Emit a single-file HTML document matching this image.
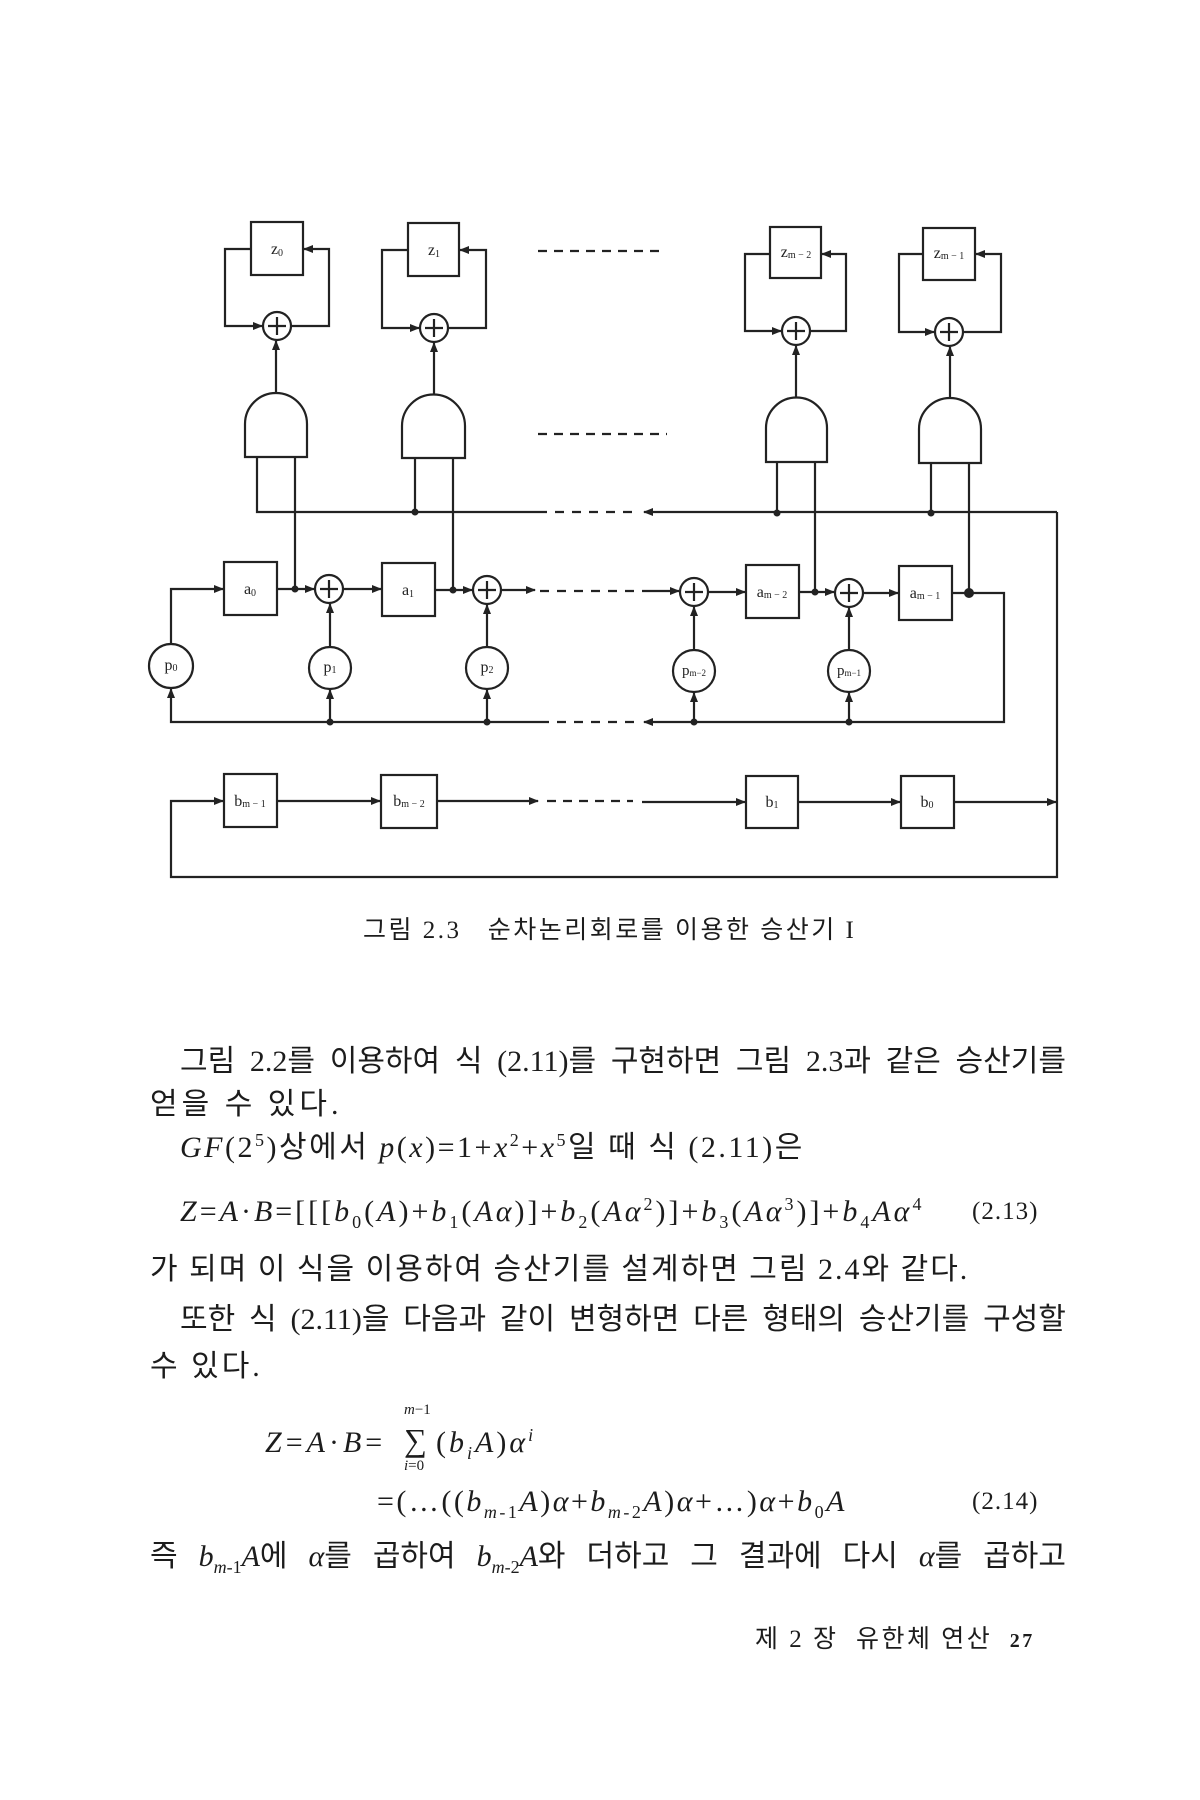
<!DOCTYPE html>
<html><head><meta charset="utf-8">
<style>
html,body{margin:0;padding:0;background:#fff;}
body{width:1200px;height:1800px;position:relative;overflow:hidden;}
.t{position:absolute;font-family:"Liberation Serif","Noto Sans CJK KR",serif;font-size:30px;letter-spacing:2px;color:#1c1c1c;line-height:36px;white-space:nowrap;}
.k{font-family:"Liberation Serif","Noto Sans CJK KR",sans-serif;}
.j{display:flex;justify-content:space-between;letter-spacing:0;}
i{font-style:italic;font-family:"Liberation Serif",serif;}
sub,sup{font-size:60%;line-height:0;}
</style></head><body>
<svg width="1200" height="1000" style="position:absolute;left:0;top:0" xmlns="http://www.w3.org/2000/svg">
<defs>
<marker id="a" markerWidth="10" markerHeight="8" refX="9" refY="4" orient="auto" markerUnits="userSpaceOnUse">
<path d="M0,0 L10,4 L0,8 z" fill="#222"/></marker>
</defs>
<g stroke="#222" stroke-width="2.2" fill="none">
<rect x="251" y="222" width="52" height="53"/>
<path d="M251,249 H225 V326 H262" marker-end="url(#a)"/>
<path d="M291,326 H329 V249 H304" marker-end="url(#a)"/>
<circle cx="277" cy="326" r="14"/><path d="M277,317 V335 M268,326 H286"/>
<rect x="408" y="223" width="51" height="53"/>
<path d="M408,250 H382 V328 H419" marker-end="url(#a)"/>
<path d="M448,328 H486 V250 H460" marker-end="url(#a)"/>
<circle cx="434" cy="328" r="14"/><path d="M434,319 V337 M425,328 H443"/>
<rect x="770" y="227" width="51" height="51"/>
<path d="M770,254 H745 V331 H781" marker-end="url(#a)"/>
<path d="M810,331 H846 V254 H822" marker-end="url(#a)"/>
<circle cx="796" cy="331" r="14"/><path d="M796,322 V340 M787,331 H805"/>
<rect x="923" y="228" width="52" height="52"/>
<path d="M923,254 H899 V332 H934" marker-end="url(#a)"/>
<path d="M963,332 H1001 V254 H976" marker-end="url(#a)"/>
<circle cx="949" cy="332" r="14"/><path d="M949,323 V341 M940,332 H958"/>
<path d="M245,457 V424 A31,31 0 0 1 307,424 V457 Z"/>
<path d="M276,393 V341" marker-end="url(#a)"/>
<path d="M402,458 V426 A31.5,31.5 0 0 1 465,426 V458 Z"/>
<path d="M434,395 V343" marker-end="url(#a)"/>
<path d="M766,462 V428 A30.5,30.5 0 0 1 827,428 V462 Z"/>
<path d="M796,397 V346" marker-end="url(#a)"/>
<path d="M919,463 V429 A31,31 0 0 1 981,429 V463 Z"/>
<path d="M950,398 V347" marker-end="url(#a)"/>
<path d="M257,457 V512 H538"/>
<path d="M295,457 V589"/>
<path d="M415,458 V512"/>
<path d="M453,458 V590"/>
<path d="M777,462 V513"/>
<path d="M815,462 V592"/>
<path d="M931,463 V513"/>
<path d="M969,463 V593"/>
<path d="M538,512 H640" stroke-dasharray="9,8"/>
<path d="M1057,512 H644" marker-end="url(#a)"/>
<path d="M1057,512 V877 H171 V801 H223" marker-end="url(#a)"/>
<path d="M538,251 H665" stroke-dasharray="9,7"/>
<path d="M538,434 H667" stroke-dasharray="9,7"/>
<path d="M171,644 V589 H223" marker-end="url(#a)"/>
<rect x="224" y="562" width="53" height="53"/>
<path d="M277,589 H314" marker-end="url(#a)"/>
<circle cx="329" cy="589" r="14"/><path d="M329,580 V598 M320,589 H338"/>
<path d="M343,589 H381" marker-end="url(#a)"/>
<rect x="382" y="563" width="53" height="53"/>
<path d="M435,590 H472" marker-end="url(#a)"/>
<circle cx="487" cy="590" r="14"/><path d="M487,581 V599 M478,590 H496"/>
<path d="M501,590 H535" marker-end="url(#a)"/>
<path d="M540,591 H650" stroke-dasharray="9,8"/>
<path d="M650,591 H679" marker-end="url(#a)"/>
<circle cx="694" cy="592" r="14"/><path d="M694,583 V601 M685,592 H703"/>
<path d="M708,592 H745" marker-end="url(#a)"/>
<rect x="746" y="565" width="53" height="53"/>
<path d="M799,592 H834" marker-end="url(#a)"/>
<circle cx="849" cy="593" r="14"/><path d="M849,584 V602 M840,593 H858"/>
<path d="M863,593 H898" marker-end="url(#a)"/>
<rect x="899" y="566" width="53" height="54"/>
<path d="M952,593 H1004 V722 H644" marker-end="url(#a)"/>
<path d="M540,722 H640" stroke-dasharray="9,8"/>
<path d="M540,722 H171 V689" marker-end="url(#a)"/>
<circle cx="171" cy="666" r="22"/>
<circle cx="330" cy="668" r="21"/>
<path d="M330,722 V690" marker-end="url(#a)"/><path d="M330,647 V604" marker-end="url(#a)"/>
<circle cx="487" cy="668" r="21"/>
<path d="M487,722 V690" marker-end="url(#a)"/><path d="M487,647 V605" marker-end="url(#a)"/>
<circle cx="694" cy="671" r="21"/>
<path d="M694,722 V693" marker-end="url(#a)"/><path d="M694,650 V607" marker-end="url(#a)"/>
<circle cx="849" cy="671" r="21"/>
<path d="M849,722 V693" marker-end="url(#a)"/><path d="M849,650 V608" marker-end="url(#a)"/>
<rect x="224" y="774" width="53" height="53"/>
<rect x="381" y="775" width="56" height="53"/>
<rect x="746" y="776" width="52" height="52"/>
<rect x="901" y="776" width="53" height="52"/>
<path d="M277,801 H380" marker-end="url(#a)"/>
<path d="M437,801 H538" marker-end="url(#a)"/>
<path d="M547,801 H633" stroke-dasharray="9,7"/>
<path d="M642,802 H745" marker-end="url(#a)"/>
<path d="M798,802 H900" marker-end="url(#a)"/>
<path d="M954,802 H1056" marker-end="url(#a)"/>
</g>
<g fill="#222">
<circle cx="295" cy="589" r="3.5"/><circle cx="415" cy="512" r="3.5"/><circle cx="453" cy="590" r="3.5"/>
<circle cx="777" cy="513" r="3.5"/><circle cx="815" cy="592" r="3.5"/><circle cx="931" cy="513" r="3.5"/>
<circle cx="969" cy="593" r="5"/>
<circle cx="330" cy="722" r="3.5"/><circle cx="487" cy="722" r="3.5"/><circle cx="694" cy="722" r="3.5"/><circle cx="849" cy="722" r="3.5"/>
</g>
<g font-family="Liberation Serif, serif" font-size="16" fill="#222" text-anchor="middle">
<text x="277" y="254">z<tspan font-size="10" dy="2">0</tspan></text>
<text x="434" y="255">z<tspan font-size="10" dy="2">1</tspan></text>
<text x="796" y="257">z<tspan font-size="10" dy="1">m − 2</tspan></text>
<text x="949" y="258">z<tspan font-size="10" dy="1">m − 1</tspan></text>
<text x="250" y="594">a<tspan font-size="10" dy="2">0</tspan></text>
<text x="408" y="595">a<tspan font-size="10" dy="2">1</tspan></text>
<text x="772" y="597">a<tspan font-size="10" dy="1">m − 2</tspan></text>
<text x="925" y="598">a<tspan font-size="10" dy="1">m − 1</tspan></text>
<text x="171" y="670">p<tspan font-size="10" dy="1">0</tspan></text>
<text x="330" y="672">p<tspan font-size="10" dy="1">1</tspan></text>
<text x="487" y="672">p<tspan font-size="10" dy="1">2</tspan></text>
<text x="694" y="675" font-size="15">p<tspan font-size="9" dy="1">m−2</tspan></text>
<text x="849" y="675" font-size="15">p<tspan font-size="9" dy="1">m−1</tspan></text>
<text x="250" y="806">b<tspan font-size="10" dy="1">m − 1</tspan></text>
<text x="409" y="806">b<tspan font-size="10" dy="1">m − 2</tspan></text>
<text x="772" y="807">b<tspan font-size="10" dy="1">1</tspan></text>
<text x="927" y="807">b<tspan font-size="10" dy="1">0</tspan></text>
</g>
</svg>

<div class="t k" style="left:363px;top:913px;font-size:25px;letter-spacing:2.5px;">그림 2.3&nbsp;&nbsp; 순차논리회로를 이용한 승산기 I</div>

<div class="t k j" style="left:180px;top:1044px;width:886px;"><span>그림</span><span>2.2를</span><span>이용하여</span><span>식</span><span>(2.11)를</span><span>구현하면</span><span>그림</span><span>2.3과</span><span>같은</span><span>승산기를</span></div>
<div class="t k" style="left:150px;top:1087px;letter-spacing:4px;">얻을 수 있다.</div>
<div class="t k" style="left:180px;top:1130px;letter-spacing:2.5px;"><i>GF</i>(2<sup>5</sup>)상에서 <i>p</i>(<i>x</i>)=1+<i>x</i><sup>2</sup>+<i>x</i><sup>5</sup>일 때 식 (2.11)은</div>
<div class="t" style="left:180px;top:1194px;letter-spacing:3px;"><i>Z</i>=<i>A</i>·<i>B</i>=[[[<i>b</i><sub>0</sub>(<i>A</i>)+<i>b</i><sub>1</sub>(<i>Aα</i>)]+<i>b</i><sub>2</sub>(<i>Aα</i><sup>2</sup>)]+<i>b</i><sub>3</sub>(<i>Aα</i><sup>3</sup>)]+<i>b</i><sub>4</sub><i>Aα</i><sup>4</sup></div>
<div class="t" style="left:972px;top:1194px;font-size:25px;letter-spacing:1px;">(2.13)</div>
<div class="t k" style="left:150px;top:1252px;">가 되며 이 식을 이용하여 승산기를 설계하면 그림 2.4와 같다.</div>
<div class="t k j" style="left:180px;top:1302px;width:886px;"><span>또한</span><span>식</span><span>(2.11)을</span><span>다음과</span><span>같이</span><span>변형하면</span><span>다른</span><span>형태의</span><span>승산기를</span><span>구성할</span></div>
<div class="t k" style="left:150px;top:1349px;letter-spacing:3px;">수 있다.</div>
<div class="t" style="left:265px;top:1425px;letter-spacing:4px;"><i>Z</i>=<i>A</i>·<i>B</i>=</div>
<div class="t" style="left:404px;top:1402px;font-size:15px;line-height:16px;letter-spacing:0;"><i>m</i>−1</div>
<div class="t" style="left:404px;top:1422px;font-size:32px;letter-spacing:0;">∑</div>
<div class="t" style="left:404px;top:1458px;font-size:15px;line-height:16px;letter-spacing:0;"><i>i</i>=0</div>
<div class="t" style="left:436px;top:1425px;letter-spacing:3px;">(<i>b<sub>i</sub>A</i>)<i>α<sup>i</sup></i></div>
<div class="t" style="left:377px;top:1484px;letter-spacing:2.5px;">=(…((<i>b</i><sub><i>m</i>-1</sub><i>A</i>)<i>α</i>+<i>b</i><sub><i>m</i>-2</sub><i>A</i>)<i>α</i>+…)<i>α</i>+<i>b</i><sub>0</sub><i>A</i></div>
<div class="t" style="left:972px;top:1484px;font-size:25px;letter-spacing:1px;">(2.14)</div>
<div class="t k j" style="left:150px;top:1539px;width:916px;"><span>즉</span><span><i>b</i><sub><i>m</i>-1</sub><i>A</i>에</span><span><i>α</i>를</span><span>곱하여</span><span><i>b</i><sub><i>m</i>-2</sub><i>A</i>와</span><span>더하고</span><span>그</span><span>결과에</span><span>다시</span><span><i>α</i>를</span><span>곱하고</span></div>
<div class="t k" style="left:755px;top:1622px;font-size:25px;letter-spacing:2.5px;">제 2 장&nbsp; 유한체 연산&nbsp; <b style="font-size:20px">27</b></div>
</body></html>
